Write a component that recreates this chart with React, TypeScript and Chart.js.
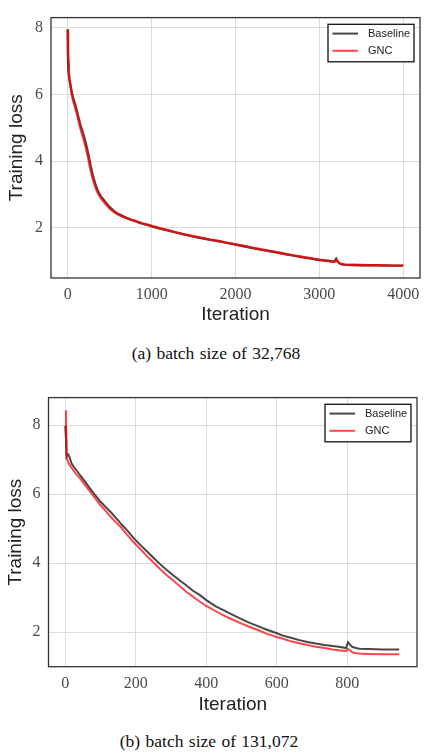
import React, { useEffect, useRef } from "react";
import { Chart, registerables } from "chart.js";
Chart.register(...registerables);

// ---------- data ----------
const seriesLabels = ["Baseline", "GNC"];
const yTickValues = [2, 4, 6, 8];

const iterA = [
  0, 2, 5, 10, 20, 30, 45, 60, 80, 100,
  125, 150, 175, 200, 225, 250, 275, 300, 325, 350,
  375, 400, 450, 500, 550, 600, 650, 700, 750, 800,
  850, 900, 950, 1000, 1100, 1200, 1300, 1400, 1500, 1600,
  1700, 1800, 1900, 2000, 2100, 2200, 2300, 2400, 2500, 2600,
  2700, 2800, 2900, 3000, 3100, 3180, 3200, 3215, 3240, 3270,
  3300, 3400, 3500, 3600, 3700, 3800, 3900, 4000,
];
const baselineA = [
  7.95, 7.3, 6.92, 6.66, 6.45, 6.31, 6.09, 5.93, 5.76, 5.59,
  5.34, 5.09, 4.89, 4.68, 4.43, 4.15, 3.83, 3.56, 3.34, 3.16,
  3.03, 2.93, 2.77, 2.62, 2.51, 2.42, 2.36, 2.3, 2.25, 2.21,
  2.16, 2.12, 2.09, 2.05, 1.98, 1.92, 1.86, 1.8, 1.74, 1.69,
  1.64, 1.6, 1.55, 1.5, 1.45, 1.4, 1.35, 1.31, 1.26, 1.21,
  1.17, 1.12, 1.08, 1.04, 1.01, 0.99, 1.07, 1.0, 0.94, 0.91,
  0.9, 0.89, 0.88, 0.88, 0.88, 0.87, 0.87, 0.87,
];
const gncA = [
  7.93, 7.45, 7.02, 6.72, 6.46, 6.3, 6.04, 5.86, 5.68, 5.5,
  5.25, 4.99, 4.78, 4.55, 4.3, 4.01, 3.7, 3.45, 3.25, 3.09,
  2.97, 2.87, 2.72, 2.58, 2.48, 2.4, 2.34, 2.29, 2.25, 2.21,
  2.17, 2.13, 2.1, 2.06, 1.99, 1.93, 1.86, 1.8, 1.75, 1.7,
  1.65, 1.61, 1.55, 1.51, 1.46, 1.41, 1.36, 1.31, 1.27, 1.22,
  1.17, 1.13, 1.09, 1.05, 1.02, 0.99, 1.06, 1.0, 0.94, 0.91,
  0.9, 0.89, 0.89, 0.88, 0.88, 0.88, 0.87, 0.87,
];
const xTicksA = [0, 1000, 2000, 3000, 4000];

const iterB = [
  0, 2, 3, 4, 6, 9, 13, 18, 25, 33,
  42, 55, 70, 85, 100, 115, 130, 145, 160, 175,
  192, 210, 230, 250, 268, 287, 306, 325, 343, 362,
  381, 400, 428, 450, 475, 500, 523, 550, 570, 600,
  617, 640, 664, 690, 711, 735, 758, 780, 796, 802,
  808, 815, 825, 834, 860, 900, 947,
];
const baselineB = [
  7.98, 7.6, 7.2, 7.1, 7.14, 7.15, 7.05, 6.89, 6.78, 6.68,
  6.55, 6.38, 6.17, 5.97, 5.78, 5.62, 5.47, 5.3, 5.12, 4.96,
  4.75, 4.56, 4.36, 4.16, 3.98, 3.81, 3.65, 3.5, 3.36, 3.2,
  3.08, 2.93, 2.74, 2.63, 2.5, 2.38, 2.27, 2.16, 2.08, 1.97,
  1.9, 1.84, 1.77, 1.71, 1.67, 1.63, 1.6, 1.57, 1.54, 1.71,
  1.63, 1.57, 1.54, 1.52, 1.51, 1.5, 1.5,
];
const gncB = [
  7.95, 8.43, 7.6, 7.05, 7.0, 6.9, 6.84, 6.76, 6.66, 6.56,
  6.46, 6.28, 6.08, 5.88, 5.68, 5.51, 5.33, 5.17, 5.02, 4.83,
  4.63, 4.44, 4.22, 4.02, 3.84, 3.66, 3.5, 3.33, 3.17, 3.03,
  2.89, 2.76, 2.6, 2.48, 2.36, 2.25, 2.15, 2.05, 1.96, 1.86,
  1.81, 1.74, 1.68, 1.62, 1.58, 1.54, 1.5, 1.47, 1.45, 1.52,
  1.47, 1.41, 1.39, 1.38, 1.37, 1.36, 1.36,
];
const xTicksB = [0, 200, 400, 600, 800];

const captionA = "(a) batch size of 32,768";
const captionB = "(b) batch size of 131,072";

// ---------- styles ----------
const BASE_COLOR = "rgba(0,0,0,0.72)";
const GNC_COLOR = "rgba(255,0,0,0.72)";
const GRID = "#dcdcdc";
const TICK_FONT = { family: "Liberation Serif", size: 16 };
const TITLE_FONT = { family: "Liberation Sans", size: 19 };

const framePlugin = {
  id: "frameLegend",
  afterDatasetsDraw(chart: any) {
    const { ctx, chartArea } = chart;
    const { left, top, right, bottom } = chartArea;
    ctx.save();
    ctx.strokeStyle = "#333";
    ctx.lineWidth = 1.3;
    ctx.strokeRect(left, top, right - left, bottom - top);

    const bw = 86;
    const bh = 37.5;
    const bx = right - 6 - bw;
    const by = top + 6.7;
    ctx.fillStyle = "#fff";
    ctx.fillRect(bx, by, bw, bh);
    ctx.strokeStyle = "#111";
    ctx.lineWidth = 1.3;
    ctx.strokeRect(bx, by, bw, bh);
    const colors = [BASE_COLOR, GNC_COLOR];
    const rows = [9.3, 26.5];
    ctx.font = "11px Liberation Sans";
    ctx.textBaseline = "middle";
    ctx.textAlign = "left";
    seriesLabels.forEach((lab, i) => {
      const y = by + rows[i];
      ctx.strokeStyle = colors[i];
      ctx.lineWidth = 2;
      ctx.beginPath();
      ctx.moveTo(bx + 4.5, y);
      ctx.lineTo(bx + 30, y);
      ctx.stroke();
      ctx.fillStyle = "#222";
      ctx.fillText(lab, bx + 40, y + 0.5);
    });
    ctx.restore();
  },
};

type PanelProps = {
  top: number;
  height: number;
  padTop: number;
  padRight: number;
  yWidth: number;
  xHeight: number;
  yTitlePad: number;
  xMin: number;
  xMax: number;
  yMin: number;
  yMax: number;
  iter: number[];
  base: number[];
  gnc: number[];
  xTicks: number[];
  lineWidth: number;
};

function Panel(p: PanelProps) {
  const ref = useRef<HTMLCanvasElement | null>(null);
  useEffect(() => {
    if (!ref.current) return;
    const chart = new Chart(ref.current, {
      type: "line",
      data: {
        datasets: [
          {
            label: seriesLabels[0],
            data: p.iter.map((x, i) => ({ x, y: p.base[i] })),
            borderColor: BASE_COLOR,
            borderWidth: p.lineWidth,
            pointRadius: 0,
            tension: 0,
            order: 2,
          },
          {
            label: seriesLabels[1],
            data: p.iter.map((x, i) => ({ x, y: p.gnc[i] })),
            borderColor: GNC_COLOR,
            borderWidth: p.lineWidth,
            pointRadius: 0,
            tension: 0,
            order: 1,
          },
        ],
      },
      options: {
        animation: false,
        responsive: false,
        devicePixelRatio: 1,
        layout: { padding: { top: p.padTop, right: p.padRight, left: 0, bottom: 0 } },
        plugins: { legend: { display: false }, tooltip: { enabled: false } },
        scales: {
          x: {
            type: "linear",
            min: p.xMin,
            max: p.xMax,
            afterBuildTicks: (s: any) => {
              s.ticks = p.xTicks.map((v) => ({ value: v }));
            },
            afterFit: (s: any) => {
              s.height = p.xHeight;
            },
            grid: { color: GRID, lineWidth: 1, drawTicks: false },
            border: { display: false },
            ticks: {
              padding: 7,
              font: TICK_FONT,
              color: "#4a4a4a",
              maxRotation: 0,
              autoSkip: false,
              callback: (v: any) => String(v),
            },
            title: {
              display: true,
              text: "Iteration",
              font: TITLE_FONT,
              color: "#222",
              padding: { top: 0, bottom: 3.6 },
            },
          },
          y: {
            type: "linear",
            min: p.yMin,
            max: p.yMax,
            afterBuildTicks: (s: any) => {
              s.ticks = yTickValues.map((v) => ({ value: v }));
            },
            afterFit: (s: any) => {
              s.width = p.yWidth;
            },
            grid: { color: GRID, lineWidth: 1, drawTicks: false },
            border: { display: false },
            ticks: {
              padding: 8,
              font: TICK_FONT,
              color: "#4a4a4a",
              autoSkip: false,
              callback: (v: any) => String(v),
            },
            title: {
              display: true,
              text: "Training loss",
              font: TITLE_FONT,
              color: "#222",
              padding: { top: p.yTitlePad, bottom: 0 },
            },
          },
        },
      },
      plugins: [framePlugin],
    } as any);
    return () => chart.destroy();
  }, []);
  return (
    <div style={{ position: "absolute", left: 0, top: p.top, width: 427, height: p.height }}>
      <canvas ref={ref} width={427} height={p.height} style={{ display: "block" }} />
    </div>
  );
}

function Caption({ text, cx, cy }: { text: string; cx: number; cy: number }) {
  return (
    <div
      style={{
        position: "absolute",
        left: cx - 150,
        top: cy - 11,
        width: 300,
        height: 22,
        lineHeight: "22px",
        textAlign: "center",
        fontFamily: "'Liberation Serif', 'Times New Roman', serif",
        fontSize: 17.5,
        wordSpacing: 1,
        color: "#111",
        whiteSpace: "nowrap",
      }}
    >
      {text}
    </div>
  );
}

export default function App() {
  return (
    <div style={{ position: "absolute", left: 0, top: 0, width: 427, height: 756, background: "#fff" }}>
      <Panel
        top={0}
        height={330}
        padTop={6}
        padRight={7}
        yWidth={51}
        xHeight={52}
        yTitlePad={5.6}
        xMin={-200}
        xMax={4200}
        yMin={0.5}
        yMax={8.3}
        iter={iterA}
        base={baselineA}
        gnc={gncA}
        xTicks={xTicksA}
        lineWidth={2.4}
      />
      <Caption text={captionA} cx={216} cy={353} />
      <Panel
        top={380}
        height={340}
        padTop={15}
        padRight={10}
        yWidth={48.5}
        xHeight={53.3}
        yTitlePad={3.9}
        xMin={-47.5}
        xMax={997.5}
        yMin={1.0}
        yMax={8.8}
        iter={iterB}
        base={baselineB}
        gnc={gncB}
        xTicks={xTicksB}
        lineWidth={2}
      />
      <Caption text={captionB} cx={209} cy={741} />
    </div>
  );
}
